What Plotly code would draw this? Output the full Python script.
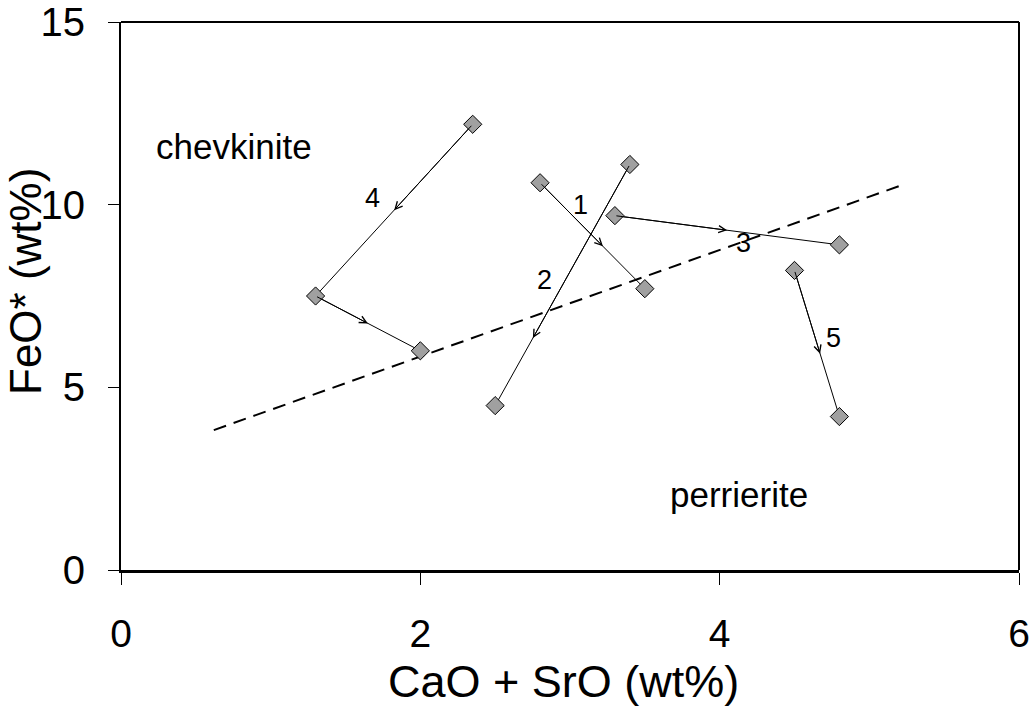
import plotly.graph_objects as go

# ---- data ----
trend_ids = ["1", "2", "3", "4", "5"]
trend_x = [[2.8, 3.5], [3.4, 2.5], [3.3, 4.8], [2.35, 1.3, 2.0], [4.5, 4.8]]
trend_y = [[10.6, 7.7], [11.1, 4.5], [9.7, 8.9], [12.2, 7.5, 6.0], [8.2, 4.2]]
# fraction along each segment where the direction arrow sits
arrow_frac = [[0.6], [0.72], [0.5], [0.5, 0.5], [0.57]]
# trend number label positions
label_x = [3.07, 2.83, 4.16, 1.68, 4.76]
label_y = [9.99, 7.94, 8.95, 10.18, 6.35]

boundary_x = [0.62, 5.2]
boundary_y = [3.83, 10.51]

field_names = ["chevkinite", "perrierite"]
field_x = [0.755, 4.13]
field_y = [11.58, 2.08]

x_ticks = [0, 2, 4, 6]
y_ticks = [0, 5, 10, 15]
x_title = "CaO + SrO (wt%)"
y_title = "FeO* (wt%)"

FONT = "Liberation Sans, Arial, sans-serif"

fig = go.Figure()

# dashed field boundary
fig.add_trace(go.Scatter(x=boundary_x, y=boundary_y, mode="lines",
                         line=dict(color="black", width=2, dash="13px,8px"),
                         hoverinfo="skip", showlegend=False))

annotations = []
for tid, xs, ys, fr in zip(trend_ids, trend_x, trend_y, arrow_frac):
    fig.add_trace(go.Scatter(
        x=xs, y=ys, mode="lines+markers", name=tid,
        line=dict(color="black", width=1),
        marker=dict(symbol="diamond", size=14, color="#a0a0a0",
                    line=dict(color="black", width=1)),
        showlegend=False))
    for i, f in enumerate(fr):
        x0, y0, x1, y1 = xs[i], ys[i], xs[i + 1], ys[i + 1]
        annotations.append(dict(
            x=x0 + f * (x1 - x0), y=y0 + f * (y1 - y0),
            ax=x0, ay=y0, axref="x", ayref="y", xref="x", yref="y",
            text="", showarrow=True, arrowhead=5, arrowsize=1.4,
            arrowwidth=1, arrowcolor="black", standoff=0, startstandoff=0))

for t, lx, ly in zip(trend_ids, label_x, label_y):
    annotations.append(dict(x=lx, y=ly, xref="x", yref="y", text=t,
                            showarrow=False,
                            font=dict(family=FONT, size=27, color="black")))

for t, fx, fy in zip(field_names, field_x, field_y):
    annotations.append(dict(x=fx, y=fy, xref="x", yref="y", text=t,
                            showarrow=False,
                            font=dict(family=FONT, size=35, color="black")))

# axis titles as annotations (placed like the reference)
annotations.append(dict(x=0.5, y=0, xref="paper", yref="paper", text=x_title,
                        showarrow=False, xanchor="center", yanchor="middle",
                        xshift=-7, yshift=-111,
                        font=dict(family=FONT, size=45, color="black")))
annotations.append(dict(x=0, y=0.5, xref="paper", yref="paper", text=y_title,
                        showarrow=False, xanchor="center", yanchor="middle",
                        textangle=-90, xshift=-96, yshift=14,
                        font=dict(family=FONT, size=44, color="black")))

fig.update_layout(
    width=1033, height=710,
    margin=dict(l=121, r=14, t=22, b=140),
    paper_bgcolor="white", plot_bgcolor="white",
    font=dict(family=FONT, color="black"),
    annotations=annotations,
    xaxis=dict(range=[0, 6], tickvals=x_ticks, showgrid=False, zeroline=False,
               automargin=False,
               showline=True, linecolor="black", linewidth=3,
               ticks="outside", ticklen=12, tickwidth=1, tickcolor="black",
               tickfont=dict(family=FONT, size=39), ticklabelstandoff=15),
    yaxis=dict(range=[0, 15], tickvals=y_ticks, showgrid=False, zeroline=False,
               automargin=False,
               showline=True, linecolor="black", linewidth=2,
               ticks="outside", ticklen=11, tickwidth=1, tickcolor="black",
               tickfont=dict(family=FONT, size=40), ticklabelstandoff=15),
    shapes=[
        dict(type="line", xref="paper", yref="paper", x0=0, x1=1, y0=1, y1=1,
             line=dict(color="black", width=2)),
        dict(type="line", xref="paper", yref="paper", x0=1, x1=1, y0=0, y1=1,
             line=dict(color="black", width=2)),
    ],
)

fig.write_html("out.html")
